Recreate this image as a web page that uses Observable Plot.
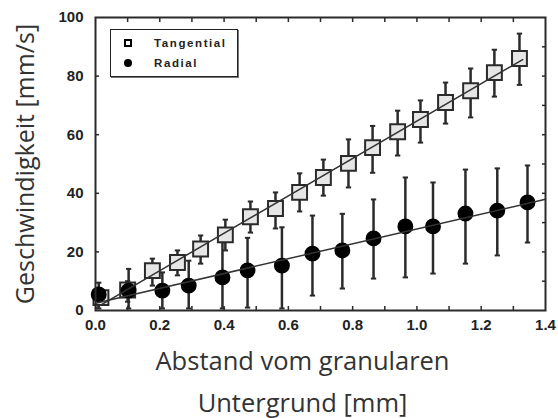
<!DOCTYPE html>
<html>
<head>
<meta charset="utf-8">
<script src="https://cdn.jsdelivr.net/npm/d3@7"></script>
<script src="https://cdn.jsdelivr.net/npm/@observablehq/plot@0.6"></script>
<style>
  html, body { margin: 0; padding: 0; background: #fff; }
  #wrap { position: relative; width: 558px; height: 418px; }
  #legend {
    position: absolute; left: 110px; top: 29px; width: 126px; height: 46px;
    border: 1px solid #222; box-shadow: 1px 1px 0 #777; background: #fff;
    font-family: "Liberation Sans", Arial, sans-serif; font-weight: bold;
    font-size: 11.5px; letter-spacing: 1.6px; color: #222;
  }
  #legend .row { position: absolute; left: 0; height: 14px; line-height: 14px; }
  #legend .sym { position: absolute; left: 13px; top: 3px; width: 8px; height: 8px; }
  #legend .lab { position: absolute; left: 43px; top: 0; white-space: nowrap; }
</style>
</head>
<body>
<div id="wrap"></div>
<script>
// Tangential series (open squares)
const tanX  = [0.017,0.100,0.177,0.255,0.327,0.404,0.482,0.560,0.635,0.709,0.787,0.862,0.940,1.011,1.089,1.167,1.241,1.319];
const tanY  = [4.4,7.0,13.6,16.4,21.0,25.8,32.0,34.8,40.3,45.4,50.2,55.6,61.0,65.2,71.0,75.0,81.2,86.0];
const tanLo = [2.0,3.0,8.5,12.0,16.0,20.5,26.6,28.0,33.8,39.2,42.0,47.0,52.9,57.3,63.8,65.9,73.0,77.0];
const tanHi = [7.0,10.0,17.7,20.5,25.6,31.0,37.2,40.3,46.8,51.5,58.4,63.0,68.2,71.7,77.8,82.6,89.0,94.5];

// Radial series (filled circles)
const radX  = [0.010,0.103,0.208,0.290,0.395,0.473,0.580,0.675,0.768,0.865,0.964,1.050,1.151,1.250,1.344];
const radY  = [5.5,6.8,6.8,8.5,11.3,13.7,15.3,19.4,20.5,24.6,28.7,28.7,33.1,34.1,36.9];
const radLo = [0.7,0.7,0.7,0.7,0.7,1.0,0.7,5.1,7.5,10.9,11.3,12.6,16.0,18.8,23.2];
const radHi = [9.5,14.2,13.0,17.0,23.3,24.8,28.4,32.4,33.0,37.9,45.4,43.7,48.1,48.5,49.5];

// Axis ticks and labels
const xTickLabels = [0, 0.2, 0.4, 0.6, 0.8, 1.0, 1.2, 1.4];
const xMinorTicks = [0.1,0.2,0.3,0.4,0.5,0.6,0.7,0.8,0.9,1.0,1.1,1.2,1.3];
const yTickLabels = [0, 20, 40, 60, 80, 100];
const yLeftTicks  = [20, 40, 60, 80];
const yRightTicks = [10,20,30,40,50,60,70,80,90];
const xDomain = [0, 1.4];
const yDomain = [0, 100];

const seriesNames = ["Tangential", "Radial"];
const yTitle = "Geschwindigkeit [mm/s]";
const xTitle1 = "Abstand vom granularen";
const xTitle2 = "Untergrund [mm]";

const tan = tanX.map((x, i) => ({x, y: tanY[i], lo: tanLo[i], hi: tanHi[i]}));
const rad = radX.map((x, i) => ({x, y: radY[i], lo: radLo[i], hi: radHi[i]}));

function fit(xs, ys) {
  const mx = d3.mean(xs), my = d3.mean(ys);
  let sxy = 0, sxx = 0;
  xs.forEach((x, i) => { sxy += (x - mx) * (ys[i] - my); sxx += (x - mx) ** 2; });
  const b = sxy / sxx, a = my - b * mx;
  return x => a + b * x;
}
const fTan = fit(tanX, tanY), fRad = fit(radX, radY);
const tanLine = [xDomain[0], d3.max(tanX) + 0.01].map(x => ({x, y: fTan(x)}));
const radLine = [xDomain[0], xDomain[1]].map(x => ({x, y: fRad(x)}));

const cap = { draw(ctx, size) { const w = Math.sqrt(size) / 2; ctx.moveTo(-w, 0); ctx.lineTo(w, 0); } };
const ink = "#2a2a2a";

const chart = Plot.plot({
  width: 558, height: 418,
  marginLeft: 95, marginRight: 13, marginTop: 17, marginBottom: 108,
  x: { domain: xDomain },
  y: { domain: yDomain },
  style: { fontFamily: "Liberation Sans, Arial, sans-serif", background: "#fff" },
  marks: [
    // error bars
    Plot.ruleX(tan, {x: "x", y1: "lo", y2: "hi", stroke: ink, strokeWidth: 2.5}),
    Plot.ruleX(rad, {x: "x", y1: "lo", y2: "hi", stroke: ink, strokeWidth: 2.5}),
    Plot.dot(tan, {x: "x", y: "lo", symbol: cap, r: 3, stroke: ink, strokeWidth: 2}),
    Plot.dot(tan, {x: "x", y: "hi", symbol: cap, r: 3, stroke: ink, strokeWidth: 2}),
    Plot.dot(rad, {x: "x", y: "lo", symbol: cap, r: 3, stroke: ink, strokeWidth: 2}),
    Plot.dot(rad, {x: "x", y: "hi", symbol: cap, r: 3, stroke: ink, strokeWidth: 2}),
    // markers
    Plot.dot(tan, {x: "x", y: "y", symbol: "square", r: 8.4, fill: "#e6e6e6", stroke: ink, strokeWidth: 2}),
    Plot.dot(rad, {x: "x", y: "y", symbol: "circle", r: 7.2, fill: "#000", stroke: "#000"}),
    // fit lines
    Plot.line(tanLine, {x: "x", y: "y", stroke: "#333", strokeWidth: 1.5}),
    Plot.line(radLine, {x: "x", y: "y", stroke: "#333", strokeWidth: 1.5}),
    // axes
    Plot.axisX({anchor: "bottom", ticks: xTickLabels, tickSize: 0, tickPadding: 9,
      tickFormat: d3.format(".1f"), fontSize: 15, fontWeight: "bold", fill: "#222", label: null}),
    Plot.axisX({anchor: "bottom", ticks: xMinorTicks, tickSize: -4, tickFormat: () => "", stroke: ink, strokeWidth: 1.5, label: null}),
    Plot.axisX({anchor: "top", ticks: xMinorTicks, tickSize: -4, tickFormat: () => "", stroke: ink, strokeWidth: 1.5, label: null}),
    Plot.axisY({anchor: "left", ticks: yTickLabels, tickSize: 0, tickPadding: 12,
      fontSize: 15, fontWeight: "bold", fill: "#222", label: null}),
    Plot.axisY({anchor: "left", ticks: yLeftTicks, tickSize: -4, tickFormat: () => "", stroke: ink, strokeWidth: 1.5, label: null}),
    Plot.axisY({anchor: "right", ticks: yRightTicks, tickSize: -4, tickFormat: () => "", stroke: ink, strokeWidth: 1.5, label: null}),
    Plot.frame({stroke: ink, strokeWidth: 2}),
    // titles
    Plot.text([yTitle], {text: d => d, frameAnchor: "left", textAnchor: "middle", rotate: -90, dx: -70,
      fontSize: 25, fontFamily: "Open Sans", fill: "#333"}),
    Plot.text([xTitle1], {text: d => d, frameAnchor: "bottom", dx: -18, dy: 59,
      fontSize: 25.5, fontFamily: "Open Sans", fill: "#333"}),
    Plot.text([xTitle2], {text: d => d, frameAnchor: "bottom", dx: -18, dy: 101,
      fontSize: 25.5, fontFamily: "Open Sans", fill: "#333"})
  ]
});

const wrap = document.getElementById("wrap");
wrap.appendChild(chart);

const legend = document.createElement("div");
legend.id = "legend";
legend.innerHTML = `
  <div class="row" style="top:6px;width:100%"><svg class="sym" viewBox="0 0 8 8"><rect x="1" y="1" width="6" height="6" fill="#fff" stroke="#000" stroke-width="2"/></svg><span class="lab">${seriesNames[0]}</span></div>
  <div class="row" style="top:26px;width:100%"><svg class="sym" viewBox="0 0 8 8"><circle cx="4" cy="4" r="4" fill="#000"/></svg><span class="lab">${seriesNames[1]}</span></div>`;
wrap.appendChild(legend);
</script>
</body>
</html>
